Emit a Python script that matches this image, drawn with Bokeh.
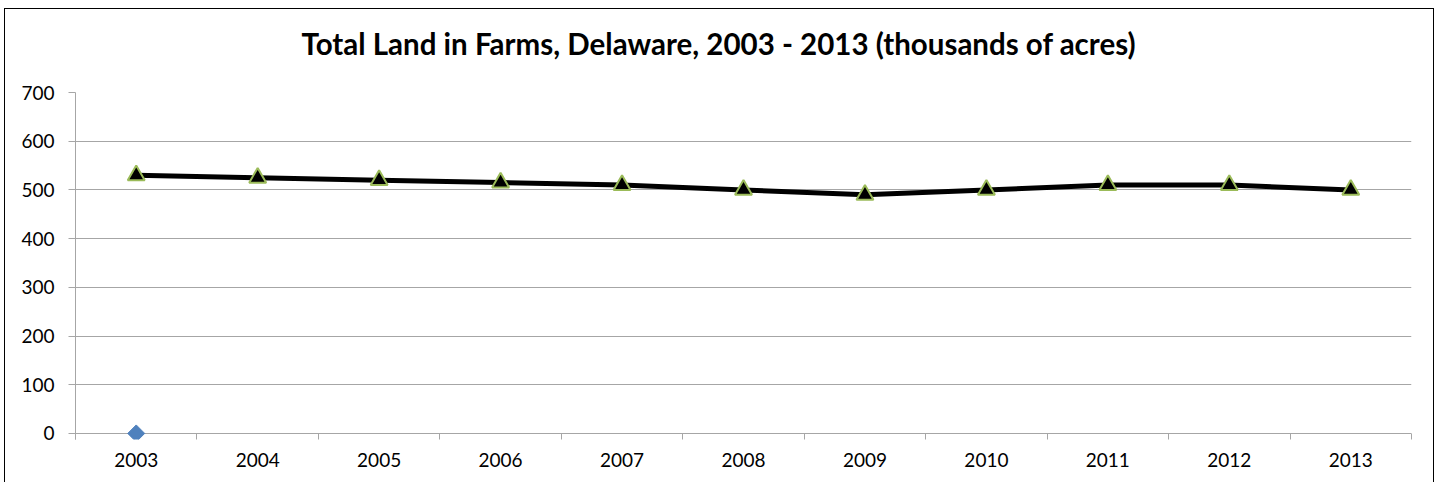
import numpy as np
from bokeh.plotting import figure
from bokeh.models import FixedTicker, Range1d, Title
from bokeh.embed import file_html
from bokeh.resources import INLINE

years = [2003, 2004, 2005, 2006, 2007, 2008, 2009, 2010, 2011, 2012, 2013]
land = [530, 525, 520, 515, 510, 500, 490, 500, 510, 510, 500]
marker_year = [2003]
marker_val = [0]
y_ticks = [0, 100, 200, 300, 400, 500, 600, 700]
title_text = "Total Land in Farms, Delaware, 2003 - 2013 (thousands of acres)"

FONT = "Lato"
GRID = "#a6a6a6"

p = figure(width=1430, height=474, output_backend="svg", toolbar_location=None,
           x_range=Range1d(years[0] - 0.5, years[-1] + 0.5), y_range=Range1d(-12.5, 700),
           min_border_left=70, min_border_right=24, min_border_top=83, min_border_bottom=44)
p.styles = {"border": "1px solid #000000", "border-bottom": "none",
            "margin-left": "4px", "margin-top": "8px"}
p.outline_line_color = None

# spacer between the frame and the title
spacer = Title(text=" ", text_font_size="1px", standoff=24)
p.add_layout(spacer, "above")
t = Title(text=title_text, align="left", offset=226, text_font=FONT, text_font_size="29.5px",
          text_font_style="bold", text_color="#000000", standoff=10)
p.add_layout(t, "above")

# x axis: the zero gridline acts as the axis line; boundary ticks run from the frame edge up to 0
p.xaxis.ticker = FixedTicker(ticks=years, minor_ticks=[y - 0.5 for y in years] + [years[-1] + 0.5])
p.xaxis.major_tick_line_color = None
p.xaxis.major_tick_out = 0
p.xaxis.major_tick_in = 0
p.xaxis.minor_tick_line_color = GRID
p.xaxis.minor_tick_out = 0
p.xaxis.minor_tick_in = 6
p.xaxis.axis_line_color = None
p.xaxis.major_label_text_font = FONT
p.xaxis.major_label_text_font_size = "19px"
p.xaxis.major_label_text_color = "#000000"
p.xaxis.major_label_standoff = 13

p.yaxis.ticker = FixedTicker(ticks=y_ticks)
p.yaxis.minor_tick_line_color = None
p.yaxis.major_tick_line_color = GRID
p.yaxis.major_tick_out = 7
p.yaxis.major_tick_in = 0
p.yaxis.axis_line_color = GRID
p.yaxis.major_label_text_font = FONT
p.yaxis.major_label_text_font_size = "19px"
p.yaxis.major_label_text_color = "#000000"
p.yaxis.major_label_standoff = 14

p.xgrid.grid_line_color = None
p.ygrid.grid_line_color = GRID
p.ygrid.grid_line_width = 1.2

p.line(years, land, line_color="#000000", line_width=5)
p.scatter(years, land, marker="triangle", size=17, fill_color="#000000",
          line_color="#9bbb59", line_width=2)
p.scatter(marker_year, marker_val, marker="square", angle=np.pi / 4, size=12,
          fill_color="#4f81bd", line_color="#4f81bd")

open("out.html", "w").write(file_html(p, INLINE))
